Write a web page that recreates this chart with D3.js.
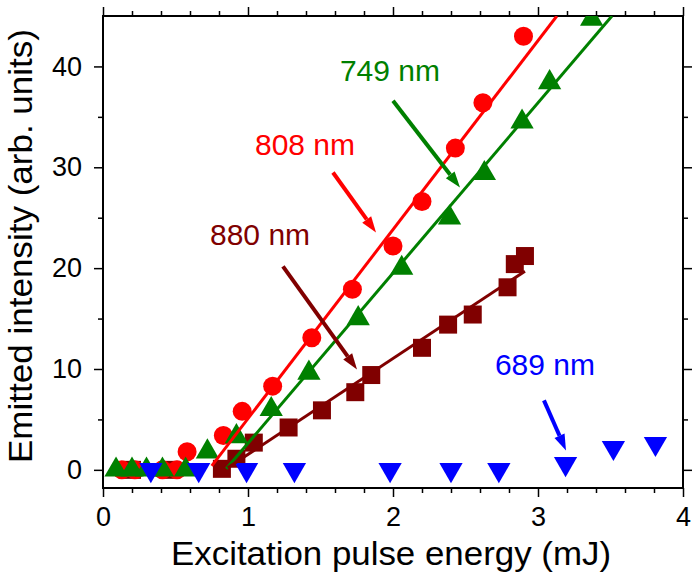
<!DOCTYPE html>
<html><head><meta charset="utf-8">
<script src="https://cdn.jsdelivr.net/npm/d3@7"></script>
<style>body{margin:0;background:#fff}svg{display:block}text{font-family:Arial,"Liberation Sans",sans-serif}</style>
</head><body>
<svg id="c" width="700" height="578"></svg>
<script>
// ---- data ----
const xTicks = [0, 1, 2, 3, 4];
const yTicks = [0, 10, 20, 30, 40];
const xLabel = "Excitation pulse energy (mJ)";
const yLabel = "Emitted intensity (arb. units)";

const red808X = [0.13, 0.22, 0.41, 0.51, 0.58, 0.83, 0.96, 1.17, 1.44, 1.72, 2.00, 2.20, 2.43, 2.62, 2.90];
const red808Y = [0, 0, 0, 0, 1.8, 3.4, 5.8, 8.3, 13.1, 17.9, 22.2, 26.6, 31.9, 36.4, 43.0];

const green749X = [0.09, 0.20, 0.30, 0.41, 0.57, 0.72, 0.92, 1.16, 1.42, 1.76, 2.06, 2.39, 2.63, 2.89, 3.08, 3.37];
const green749Y = [0, 0, 0, 0, 0, 1.8, 3.3, 6.0, 9.6, 15.0, 20.0, 25.0, 29.4, 34.5, 38.4, 44.7];

const maroon880X = [0.20, 0.47, 0.82, 0.92, 1.04, 1.28, 1.51, 1.74, 1.85, 2.20, 2.38, 2.55, 2.79, 2.84, 2.91];
const maroon880Y = [0, 0, 0.1, 1.1, 2.7, 4.2, 5.9, 7.7, 9.4, 12.1, 14.4, 15.4, 18.1, 20.4, 21.2];

const blue689X = [0.33, 0.66, 0.99, 1.32, 1.98, 2.40, 2.73, 3.19, 3.52, 3.81];
const blue689Y = [0, 0, 0, 0, 0, 0, 0, 0.6, 2.2, 2.6];

// fitted lines: [x0, x1], [y0, y1]
const fit808X = [0.75, 3.13], fit808Y = [0.4, 45];
const fit749X = [0.85, 3.51], fit749Y = [0.1, 45];
const fit880X = [0.86, 2.91], fit880Y = [0.2, 19.7];

// annotations
const labelNames = ["808 nm", "749 nm", "880 nm", "689 nm"];
const labelX = [1.048, 1.634, 0.738, 2.703];
const labelY = [31.2, 38.6, 22.25, 9.37];
const arrowX0 = [1.586, 2.00, 1.241, 3.041];
const arrowY0 = [29.48, 36.6, 20.17, 6.89];
const arrowX1 = [1.883, 2.462, 1.752, 3.193];
const arrowY1 = [23.54, 28.0, 9.96, 1.93];
const colors = ["#ff0000", "#008000", "#800000", "#0000ff"];

// ---- layout ----
const W = 700, H = 578;
const m = {l: 103, r: 17, t: 16, b: 90};
const svg = d3.select("#c");
const x = d3.scaleLinear().domain([0, 4]).range([m.l, W - m.r]);
const y = d3.scaleLinear().domain([-1.8, 45]).range([H - m.b, m.t]);

const xMinor = d3.range(0, 4.001, 0.2).filter(v => Math.abs(v - Math.round(v)) > 1e-6);
const yMinor = [5, 15, 25, 35];

svg.append("defs").append("clipPath").attr("id", "clip")
  .append("rect").attr("x", m.l).attr("y", m.t).attr("width", W - m.l - m.r).attr("height", H - m.t - m.b);

function styleAxis(g) {
  g.selectAll("path").remove();
  g.selectAll("line").attr("stroke", "#000").attr("stroke-width", 1.5);
  g.selectAll("text").attr("font-size", 27).attr("fill", "#000").attr("font-family", "Arial, 'Liberation Sans', sans-serif");
}
const by = H - m.b, ty = m.t, lx = m.l, rx = W - m.r;
svg.append("g").attr("transform", `translate(0,${by})`)
  .call(d3.axisBottom(x).tickValues(xTicks).tickFormat(d3.format("d")).tickSize(9).tickPadding(10)).call(styleAxis);
svg.append("g").attr("transform", `translate(0,${by})`)
  .call(d3.axisBottom(x).tickValues(xMinor).tickFormat("").tickSize(5)).call(styleAxis);
svg.append("g").attr("transform", `translate(0,${ty})`)
  .call(d3.axisTop(x).tickValues(xTicks).tickFormat("").tickSize(9)).call(styleAxis);
svg.append("g").attr("transform", `translate(0,${ty})`)
  .call(d3.axisTop(x).tickValues(xMinor).tickFormat("").tickSize(5)).call(styleAxis);
svg.append("g").attr("transform", `translate(${lx},0)`)
  .call(d3.axisLeft(y).tickValues(yTicks).tickFormat(d3.format("d")).tickSize(9).tickPadding(12)).call(styleAxis);
svg.append("g").attr("transform", `translate(${lx},0)`)
  .call(d3.axisLeft(y).tickValues(yMinor).tickFormat("").tickSize(5)).call(styleAxis);
svg.append("g").attr("transform", `translate(${rx},0)`)
  .call(d3.axisRight(y).tickValues(yTicks).tickFormat("").tickSize(9)).call(styleAxis);
svg.append("g").attr("transform", `translate(${rx},0)`)
  .call(d3.axisRight(y).tickValues(yMinor).tickFormat("").tickSize(5)).call(styleAxis);

svg.append("rect").attr("x", lx).attr("y", ty).attr("width", rx - lx).attr("height", by - ty)
  .attr("fill", "none").attr("stroke", "#000").attr("stroke-width", 2);

// axis titles
svg.append("text").attr("x", 391).attr("y", 565).attr("text-anchor", "middle")
  .attr("font-size", 33).attr("fill", "#000")
  .attr("textLength", 440).attr("lengthAdjust", "spacingAndGlyphs").text(xLabel);
svg.append("text").attr("transform", `translate(32,${246}) rotate(-90)`).attr("text-anchor", "middle")
  .attr("font-size", 33).attr("fill", "#000")
  .attr("textLength", 434).attr("lengthAdjust", "spacingAndGlyphs").text(yLabel);

const plot = svg.append("g").attr("clip-path", "url(#clip)");
const zip = (a, b) => a.map((v, i) => [v, b[i]]);

const sq = d3.symbol().type(d3.symbolSquare).size(18 * 18);
const tri = d3.symbol().type(d3.symbolTriangle).size(235);
const circ = d3.symbol().type(d3.symbolCircle).size(Math.PI * 9.5 * 9.5);

function markers(xs, ys, sym, col, rot) {
  plot.append("g").selectAll("path").data(zip(xs, ys)).join("path")
    .attr("d", sym)
    .attr("transform", d => `translate(${x(d[0])},${y(d[1])})` + (rot ? ` rotate(${rot})` : ""))
    .attr("fill", col);
}
markers(maroon880X, maroon880Y, sq, colors[2]);
markers(red808X, red808Y, circ, colors[0]);
markers(green749X, green749Y, tri, colors[1]);
markers(blue689X, blue689Y, tri, colors[3], 180);

const line = d3.line().x(d => x(d[0])).y(d => y(d[1]));
function fit(xs, ys, col) {
  plot.append("path").datum(zip(xs, ys)).attr("d", line).attr("stroke", col)
    .attr("stroke-width", 3).attr("fill", "none");
}
fit(fit808X, fit808Y, colors[0]);
fit(fit749X, fit749Y, colors[1]);
fit(fit880X, fit880Y, colors[2]);

// annotations
const ann = svg.append("g");
labelNames.forEach((name, i) => {
  ann.append("text").attr("x", x(labelX[i])).attr("y", y(labelY[i]))
    .attr("font-size", 30).attr("fill", colors[i]).text(name);
  const x0 = x(arrowX0[i]), y0 = y(arrowY0[i]), x1 = x(arrowX1[i]), y1 = y(arrowY1[i]);
  const a = Math.atan2(y1 - y0, x1 - x0);
  const hl = 16, hw = 5.5;
  const bx = x1 - hl * Math.cos(a), byy = y1 - hl * Math.sin(a);
  ann.append("line").attr("x1", x0).attr("y1", y0).attr("x2", bx).attr("y2", byy)
    .attr("stroke", colors[i]).attr("stroke-width", 4);
  const px = -Math.sin(a), py = Math.cos(a);
  ann.append("path").attr("d", `M${x1},${y1}L${bx + hw * px},${byy + hw * py}L${bx - hw * px},${byy - hw * py}Z`)
    .attr("fill", colors[i]);
});
</script>
</body></html>
